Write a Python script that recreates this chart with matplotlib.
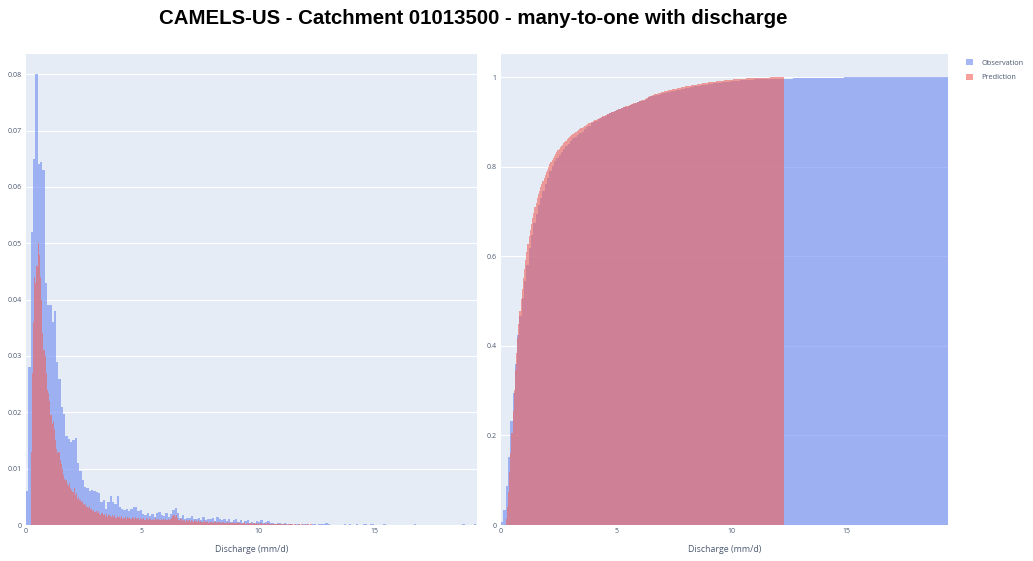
import numpy as np
import matplotlib
matplotlib.use("Agg")
import matplotlib.pyplot as plt
from matplotlib.patches import Patch

# Binned daily discharge (fraction of days per bin)
OBS_BIN = 0.1      # observation bins start at 0
PRED_BIN = 0.05    # prediction bins start at PRED_START
PRED_START = 0.2

obs_prob = [
    0.006, 0.028, 0.052, 0.065, 0.080, 0.064, 0.0645, 0.063, 0.043, 0.039,
    0.039, 0.036, 0.038, 0.029, 0.026, 0.021, 0.0197, 0.0158, 0.0152, 0.0148,
    0.0150, 0.0155, 0.0110, 0.0095, 0.0080, 0.0068, 0.0065, 0.0060, 0.0062, 0.0060,
    0.0059, 0.0057, 0.0040, 0.0045, 0.0028, 0.0040, 0.0052, 0.0040, 0.0038, 0.0052,
    0.0032, 0.0028, 0.0026, 0.0029, 0.0024, 0.0028, 0.0032, 0.0032, 0.0024, 0.0026,
    0.0020, 0.0017, 0.0022, 0.0016, 0.0019, 0.0015, 0.0021, 0.0023, 0.0018, 0.0016,
    0.0022, 0.0015, 0.0019, 0.0026, 0.0030, 0.0021, 0.0013, 0.0017, 0.0011, 0.0012,
    0.0012, 0.0016, 0.0011, 0.0010, 0.0013, 0.0009, 0.0014, 0.0008, 0.0011, 0.0010,
    0.0013, 0.0007, 0.0015, 0.0010, 0.0009, 0.0011, 0.0007, 0.0010, 0.0006, 0.0009,
    0.0010, 0.0005, 0.0008, 0.0004, 0.0007, 0.0009, 0.0004, 0.0006, 0.0004, 0.0007,
    0.0005, 0.0008, 0.0004, 0.0006, 0.0007, 0.0003, 0.0004, 0.0002, 0.0003, 0.0004,
    0.0002, 0.0003, 0.0001, 0.0002, 0.0001, 0.0000, 0.0002, 0.0002, 0.0000, 0.0002,
    0.0002, 0.0001, 0.0000, 0.0002, 0.0002, 0.0000, 0.0002, 0.0002, 0.0002, 0.0004,
    0.0002, 0.0000, 0.0000, 0.0000, 0.0000, 0.0000, 0.0000, 0.0002, 0.0000, 0.0002,
    0.0000, 0.0000, 0.0002, 0.0000, 0.0000, 0.0002, 0.0002, 0.0000, 0.0002, 0.0002,
    0.0000, 0.0000, 0.0000, 0.0000, 0.0002, 0.0000, 0.0000, 0.0000, 0.0000, 0.0000,
    0.0000, 0.0000, 0.0000, 0.0000, 0.0000, 0.0000, 0.0000, 0.0002, 0.0000, 0.0000,
    0.0000, 0.0000, 0.0000, 0.0000, 0.0000, 0.0000, 0.0000, 0.0000, 0.0000, 0.0000,
    0.0000, 0.0000, 0.0000, 0.0000, 0.0000, 0.0000, 0.0000, 0.0000, 0.0002, 0.0000,
    0.0000, 0.0000, 0.0000, 0.0002,
]

pred_prob = [
    0.013, 0.027, 0.036, 0.044, 0.043, 0.046, 0.050, 0.048, 0.044, 0.040,
    0.034, 0.031, 0.030, 0.027, 0.024, 0.0235, 0.022, 0.0195, 0.018, 0.0185,
    0.017, 0.015, 0.0135, 0.0128, 0.013, 0.0115, 0.0108, 0.010, 0.0088, 0.0081,
    0.0079, 0.0072, 0.0069, 0.0075, 0.0066, 0.0063, 0.0058, 0.0065, 0.0054, 0.0056,
    0.0047, 0.0050, 0.0044, 0.0041, 0.0043, 0.0037, 0.0035, 0.0038, 0.0032, 0.0030,
    0.0033, 0.0028, 0.0029, 0.0025, 0.0027, 0.0023, 0.0025, 0.0021, 0.0024, 0.0020,
    0.0018, 0.0021, 0.0017, 0.0019, 0.0016, 0.0020, 0.0015, 0.0018, 0.0016, 0.0014,
    0.0017, 0.0015, 0.0018, 0.0013, 0.0016, 0.0014,
    0.0014, 0.0012, 0.0016, 0.0011, 0.0013, 0.0015, 0.0010, 0.0014, 0.0012, 0.0013,
    0.0011, 0.0015, 0.0012, 0.0010, 0.0014, 0.0011, 0.0013, 0.0009, 0.0012, 0.0011,
    0.0010, 0.0013, 0.0009, 0.0012, 0.0011, 0.0008, 0.0012, 0.0010, 0.0009, 0.0011,
    0.0009, 0.0012, 0.0008, 0.0010, 0.0011, 0.0008, 0.0010, 0.0009, 0.0011, 0.0008,
    0.0010, 0.0009, 0.0011, 0.0008, 0.0010, 0.0013, 0.0016, 0.0018, 0.0015, 0.0017,
    0.0012, 0.0009, 0.0008, 0.0010, 0.0007, 0.0009, 0.0008, 0.0006, 0.0009, 0.0007,
    0.0008, 0.0006, 0.0009, 0.0007, 0.0006, 0.0008, 0.0007, 0.0005, 0.0008, 0.0006,
    0.0007, 0.0005, 0.0006, 0.0008, 0.0005, 0.0006, 0.0007, 0.0004, 0.0006, 0.0005,
    0.0006, 0.0004, 0.0007, 0.0005, 0.0004, 0.0006, 0.0005, 0.0004, 0.0006, 0.0004,
    0.0005, 0.0004, 0.0003, 0.0005, 0.0004, 0.0006, 0.0003, 0.0004, 0.0005, 0.0003,
    0.0004, 0.0003, 0.0005, 0.0003, 0.0004, 0.0002, 0.0004, 0.0003, 0.0005, 0.0002,
    0.0003, 0.0004, 0.0002, 0.0003, 0.0004, 0.0002, 0.0003, 0.0002, 0.0004, 0.0002,
    0.0003, 0.0002, 0.0004, 0.0002, 0.0002, 0.0003, 0.0001, 0.0002, 0.0003, 0.0002,
    0.0002, 0.0001, 0.0002, 0.0002, 0.0001, 0.0002, 0.0001, 0.0002, 0.0001, 0.0001,
    0.0002, 0.0001, 0.0001, 0.0002, 0.0001, 0.0000, 0.0001, 0.0002, 0.0001, 0.0001,
    0.0000, 0.0001, 0.0001, 0.0000, 0.0002, 0.0001, 0.0000, 0.0001, 0.0001, 0.0000,
    0.0001, 0.0000, 0.0001, 0.0001, 0.0000, 0.0002,
]

hist_yticks = [0, 0.01, 0.02, 0.03, 0.04, 0.05, 0.06, 0.07, 0.08]
hist_yticklabels = ["0", "0.01", "0.02", "0.03", "0.04", "0.05", "0.06", "0.07", "0.08"]
cdf_yticks = [0, 0.2, 0.4, 0.6, 0.8, 1.0]
cdf_yticklabels = ["0", "0.2", "0.4", "0.6", "0.8", "1"]
xticks = [0, 5, 10, 15]
xticklabels = ["0", "5", "10", "15"]
series_names = ["Observation", "Prediction"]

BG = "#E5ECF6"
OBS_COLOR = "#6D88EF"
PRED_COLOR = "#F06059"
ALPHA = 0.6
TEXT_COLOR = "#4a5870"

obs = np.asarray(obs_prob)
pred = np.asarray(pred_prob)
obs_edges = np.round(np.arange(len(obs) + 1) * OBS_BIN, 4)
pred_edges = np.round(PRED_START + np.arange(len(pred) + 1) * PRED_BIN, 4)

W, H = 1033, 561
fig = plt.figure(figsize=(W / 100, H / 100), dpi=100)
fig.patch.set_facecolor("white")


def px_axes(x0, y0, x1, y1):
    return fig.add_axes([x0 / W, 1 - y1 / H, (x1 - x0) / W, (y1 - y0) / H])


ax1 = px_axes(26, 54, 477, 525)
ax2 = px_axes(501, 54, 948, 525)

# Histogram panel
ax1.stairs(obs, obs_edges, fill=True, color=OBS_COLOR, alpha=ALPHA, lw=0)
ax1.stairs(pred, pred_edges, fill=True, color=PRED_COLOR, alpha=ALPHA, lw=0)
ax1.set_xlim(0, 19.43)
ax1.set_ylim(0, 0.0836)
ax1.set_yticks(hist_yticks)
ax1.set_yticklabels(hist_yticklabels)

# Cumulative panel
ax2.stairs(np.cumsum(obs) / obs.sum(), obs_edges, fill=True, color=OBS_COLOR, alpha=ALPHA, lw=0)
ax2.stairs(np.cumsum(pred) / pred.sum(), pred_edges, fill=True, color=PRED_COLOR, alpha=ALPHA, lw=0)
ax2.set_xlim(0, 19.42)
ax2.set_ylim(0, 1.0515)
ax2.set_yticks(cdf_yticks)
ax2.set_yticklabels(cdf_yticklabels)

for ax in (ax1, ax2):
    ax.set_facecolor(BG)
    ax.set_axisbelow(True)
    ax.grid(axis="y", color="white", lw=0.8)
    ax.set_xticks(xticks)
    ax.set_xticklabels(xticklabels)
    for s in ax.spines.values():
        s.set_visible(False)
    ax.tick_params(axis="both", length=0, labelsize=5.0, colors=TEXT_COLOR)
    ax.tick_params(axis="y", pad=3)
    ax.tick_params(axis="x", pad=2)
    for lab in ax.get_xticklabels() + ax.get_yticklabels():
        lab.set_family("Open Sans")
    ax.set_xlabel("Discharge (mm/d)", fontsize=6.3, color=TEXT_COLOR, family="Open Sans")
    ax.xaxis.set_label_coords(0.5, -(549 - 525) / (525 - 54))
    ax.xaxis.label.set_va("center")

fig.text(473.5 / W, 1 - 18 / H, "CAMELS-US - Catchment 01013500 - many-to-one with discharge",
         ha="center", va="center", fontsize=14.7, weight="bold", family="Liberation Sans",
         color="black")

handles = [Patch(facecolor=OBS_COLOR, alpha=ALPHA, edgecolor="none"),
           Patch(facecolor=PRED_COLOR, alpha=ALPHA, edgecolor="none")]
fig.legend(handles, series_names, loc="upper left", bbox_to_anchor=(966 / W, 1 - 59 / H),
           frameon=False, prop={"family": "Open Sans", "size": 5.3},
           labelcolor=TEXT_COLOR, handlelength=0.9, handleheight=0.9,
           handletextpad=1.2, labelspacing=0.95, borderpad=0, borderaxespad=0)

fig.savefig("out.png", dpi=100)
